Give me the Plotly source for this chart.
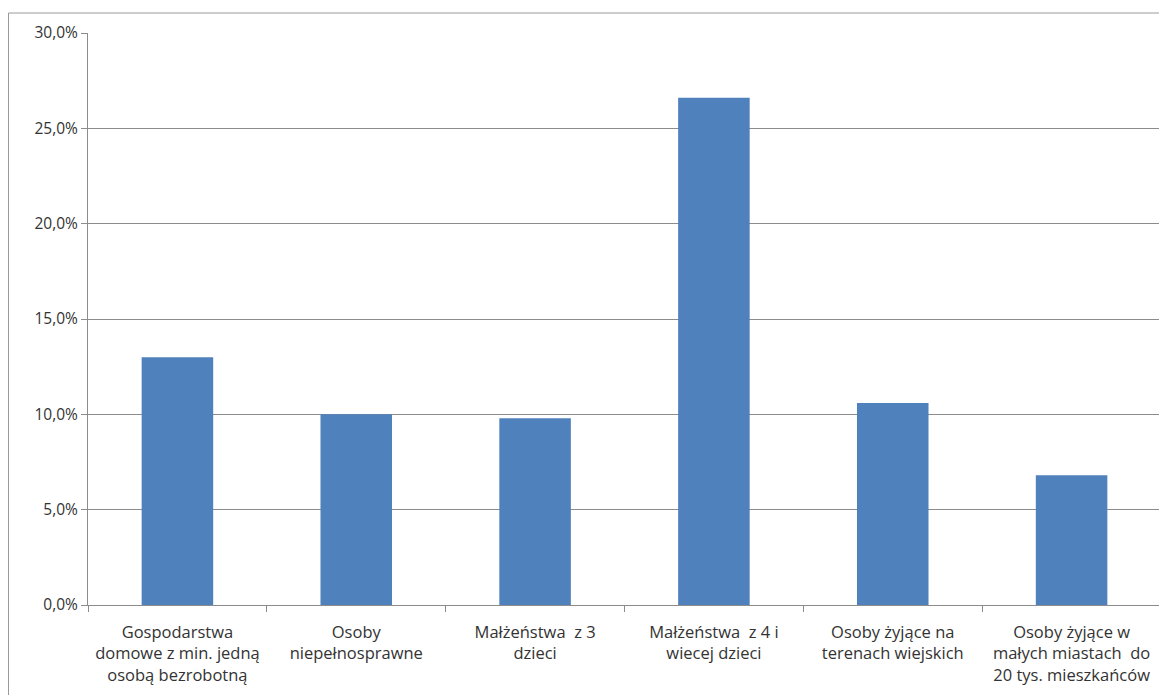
import plotly.graph_objects as go

categories = [
    "Gospodarstwa<br>domowe z min. jedną<br>osobą bezrobotną",
    "Osoby<br>niepełnosprawne",
    "Małżeństwa  z 3<br>dzieci",
    "Małżeństwa  z 4 i<br>wiecej dzieci",
    "Osoby żyjące na<br>terenach wiejskich",
    "Osoby żyjące w<br>małych miastach  do<br>20 tys. mieszkańców",
]
values = [13.0, 10.0, 9.8, 26.6, 10.6, 6.8]
y_ticks = [0, 5, 10, 15, 20, 25, 30]
y_tick_labels = ["0,0%", "5,0%", "10,0%", "15,0%", "20,0%", "25,0%", "30,0%"]

fig = go.Figure(
    go.Bar(
        x=categories,
        y=values,
        marker=dict(color="#4F81BD", line=dict(width=0)),
        hoverinfo="skip",
    )
)

# page body has an 8px offset
W, H = 1159, 687
L, R, T, B = 80, 6, 25, 90
pw = W - L - R
ph = H - T - B

fig.update_layout(
    width=W,
    height=H,
    margin=dict(l=L, r=R, t=T, b=B),
    paper_bgcolor="white",
    plot_bgcolor="white",
    bargap=0.6,
    showlegend=False,
    font=dict(family="Open Sans, sans-serif", size=15, color="#333333"),
    shapes=[
        dict(
            type="rect",
            xref="paper",
            yref="paper",
            x0=(0.5 - L) / pw,
            x1=(W + 5 - L) / pw,
            y0=-(H + 5 - (T + ph)) / ph,
            y1=1 + (T - 5) / ph,
            line=dict(color="#9a9a9a", width=1),
            fillcolor="rgba(0,0,0,0)",
            layer="below",
        )
    ],
)

fig.update_yaxes(
    range=[0, 30],
    tickvals=y_ticks,
    ticktext=y_tick_labels,
    showgrid=True,
    gridcolor="#8c8c8c",
    gridwidth=1,
    showline=True,
    linecolor="#8c8c8c",
    linewidth=1,
    ticks="outside",
    ticklen=6,
    tickcolor="#8c8c8c",
    zeroline=False,
    tickfont=dict(size=15.5),
)

fig.update_xaxes(
    showline=True,
    linecolor="#8c8c8c",
    linewidth=1,
    ticks="outside",
    tickson="boundaries",
    ticklen=6,
    tickcolor="#8c8c8c",
    showgrid=False,
    tickangle=0,
    ticklabelstandoff=12,
    tickfont=dict(size=16.5),
)

fig.write_html("out.html")
